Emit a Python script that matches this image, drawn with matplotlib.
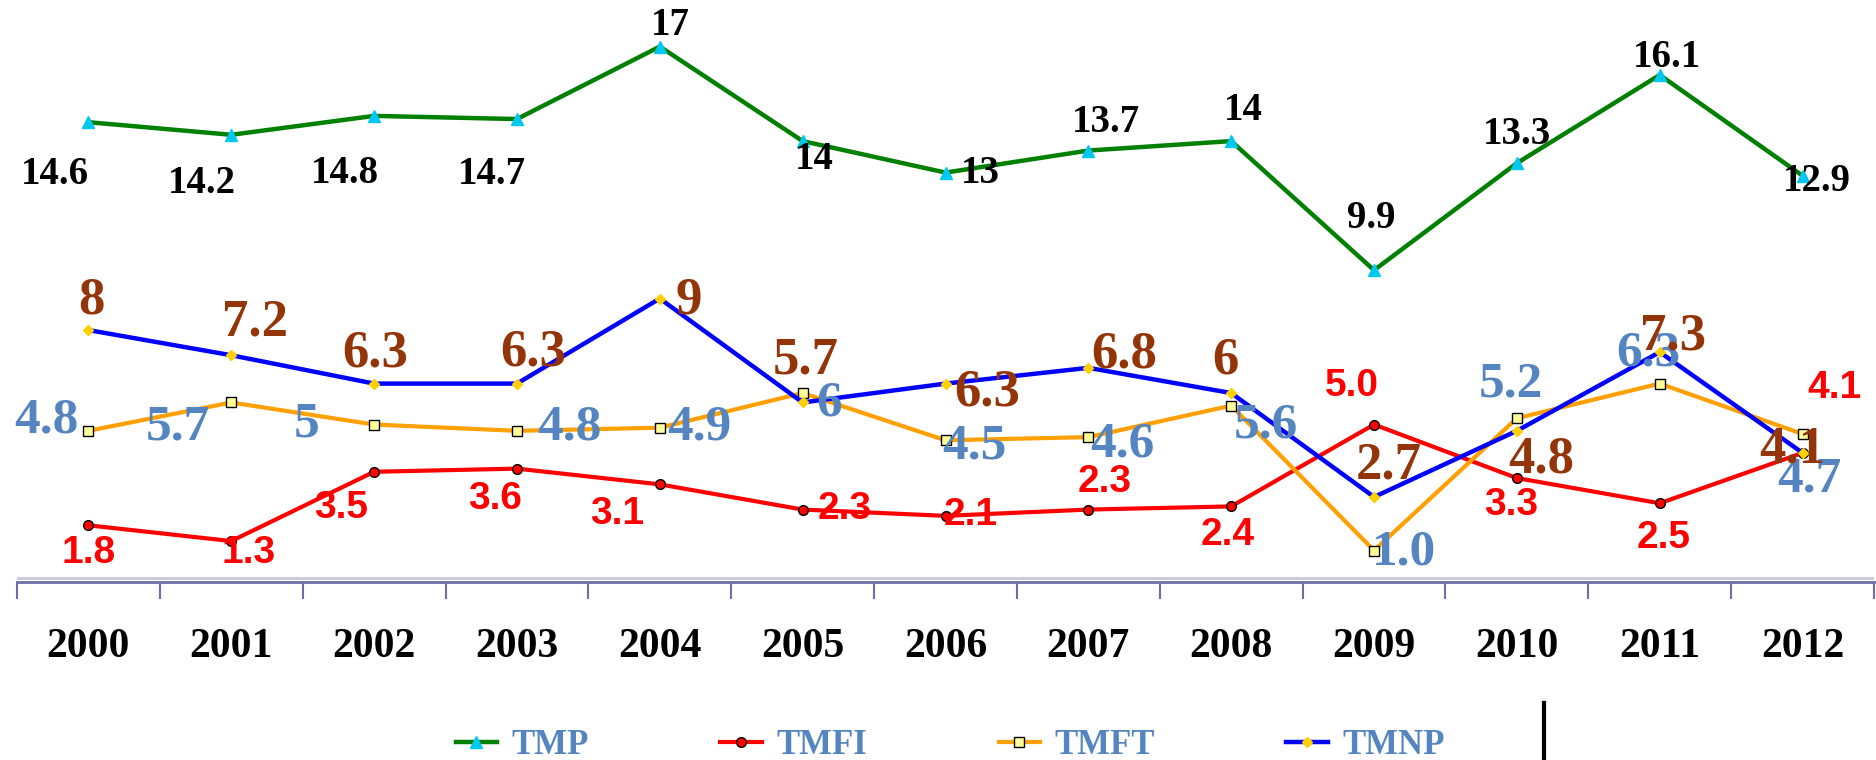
import matplotlib
matplotlib.use("Agg")
import matplotlib.pyplot as plt
from matplotlib.lines import Line2D
import numpy as np

years = ["2000", "2001", "2002", "2003", "2004", "2005", "2006",
         "2007", "2008", "2009", "2010", "2011", "2012"]
tmp = [14.6, 14.2, 14.8, 14.7, 17, 14, 13, 13.7, 14, 9.9, 13.3, 16.1, 12.9]
tmfi = [1.8, 1.3, 3.5, 3.6, 3.1, 2.3, 2.1, 2.3, 2.4, 5.0, 3.3, 2.5, 4.1]
tmft = [4.8, 5.7, 5, 4.8, 4.9, 6, 4.5, 4.6, 5.6, 1.0, 5.2, 6.3, 4.7]
tmnp = [8, 7.2, 6.3, 6.3, 9, 5.7, 6.3, 6.8, 6, 2.7, 4.8, 7.3, 4.1]

tmp_text = ["14.6", "14.2", "14.8", "14.7", "17", "14", "13", "13.7", "14", "9.9", "13.3", "16.1", "12.9"]
tmfi_text = ["1.8", "1.3", "3.5", "3.6", "3.1", "2.3", "2.1", "2.3", "2.4", "5.0", "3.3", "2.5", "4.1"]
tmft_text = ["4.8", "5.7", "5", "4.8", "4.9", "6", "4.5", "4.6", "5.6", "1.0", "5.2", "6.3", "4.7"]
tmnp_text = ["8", "7.2", "6.3", "6.3", "9", "5.7", "6.3", "6.8", "6", "2.7", "4.8", "7.3", "4.1"]

# label offsets in pixels (dx, dy up)
tmp_off = [(-33, -52), (-29, -49), (-29, -58), (-25, -55), (11, 21), (12, -18), (35, -1),
           (18, 28), (12, 31), (-3, 52), (0, 29), (7, 17), (14, -6)]
tmfi_off = [(0, -28), (17, -12), (-33, -36), (-22, -30), (-43, -30), (42, 1), (25, 1),
            (16, 28), (-4, -29), (-22, 39), (-6, -27), (4, -35), (32, 65)]
tmft_off = [(-42, 10), (-53, -25), (-67, 0), (52, 3), (40, 0), (26, -10), (29, -6),
            (34, -7), (35, -20), (30, -2), (-6, 34), (-11, 30), (7, -46)]
tmnp_off = [(3, 30), (24, 33), (1, 30), (16, 31), (29, -2), (3, 42), (42, -9),
            (36, 13), (-6, 33), (15, 31), (24, -29), (13, 16), (-10, 3)]

SERIF = ["Liberation Serif", "DejaVu Serif"]
NARROW = ["Liberation Sans Narrow", "Liberation Sans", "DejaVu Sans"]
STEEL = "#5585C0"
BROWN = "#943509"

fig = plt.figure(figsize=(18.76, 7.6), dpi=100)
ax = fig.add_axes([17 / 1876, 178 / 760, 1857 / 1876, 582 / 760])
x = np.arange(len(years))

ax.plot(x, tmp, color="#008000", lw=3.2, marker="^", ms=8, mfc="#00C8F0", mec="#00C8F0", label="TMP")
ax.plot(x, tmfi, color="#FF0000", lw=3, marker="o", ms=7, mfc="#FF0000", mec="black", mew=1, label="TMFI")
ax.plot(x, tmft, color="#FFA000", lw=3, marker="s", ms=7, mfc="#FFFF99", mec="black", mew=1, label="TMFT")
ax.plot(x, tmnp, color="#0000FF", lw=3.2, marker="D", ms=5, mfc="#FFD000", mec="#FFD000", label="TMNP")


def put_labels(vals, texts, offs, color, fam, size):
    for i, (v, t, o) in enumerate(zip(vals, texts, offs)):
        ax.annotate(t, (i, v), xytext=o, textcoords="offset pixels", ha="center", va="center",
                    color=color, fontsize=size, fontweight="bold", family=fam, annotation_clip=False)


put_labels(tmp, tmp_text, tmp_off, "black", SERIF, 28)
put_labels(tmfi, tmfi_text, tmfi_off, "#FF0000", NARROW, 28)
put_labels(tmft, tmft_text, tmft_off, STEEL, SERIF, 37)
put_labels(tmnp, tmnp_text, tmnp_off, BROWN, SERIF, 38)

ax.set_xlim(-0.5, len(years) - 0.5)
ax.set_ylim(0, 18.48)
for s in ["top", "right", "left"]:
    ax.spines[s].set_visible(False)
ax.spines["bottom"].set_color("#6E6EA8")
ax.spines["bottom"].set_linewidth(2)
ax.axhline(0.12, color="#C8C8E0", lw=2, zorder=0)
ax.set_yticks([])
ax.set_xticks(x)
ax.set_xticklabels(years, family=SERIF, fontweight="bold", fontsize=30)
ax.set_xticks(np.arange(-0.5, len(years)), minor=True)
ax.tick_params(axis="x", which="major", length=0, pad=33)
ax.tick_params(axis="x", which="minor", length=12, width=1.5, color="#6E6EA8", direction="out")

leg = fig.legend(loc="center", bbox_to_anchor=(950 / 1876, 14 / 760), ncol=4, frameon=False,
                 prop={"family": SERIF, "weight": "bold", "size": 25}, borderpad=0.2,
                 handlelength=1.2, handletextpad=0.4, columnspacing=3.8, markerscale=1.0)
for t in leg.get_texts():
    t.set_color(STEEL)

fig.add_artist(Line2D([1544 / 1876, 1544 / 1876], [0, 57 / 760], transform=fig.transFigure,
                      color="black", lw=3))

fig.savefig("out.png", dpi=100)
